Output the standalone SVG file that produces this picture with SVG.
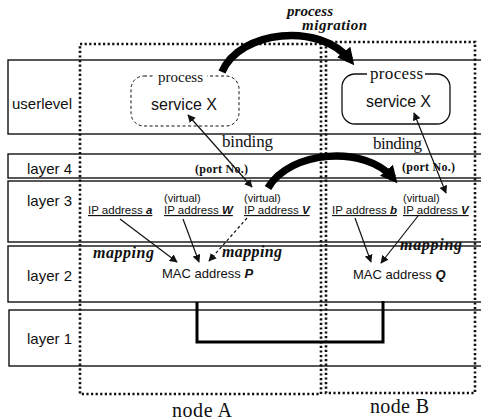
<svg xmlns="http://www.w3.org/2000/svg" width="481" height="420" viewBox="0 0 481 420">
<defs>
<style>
.band{fill:none;stroke:#111;stroke-width:1.4}
.node{fill:none;stroke:#111;stroke-width:2.6;stroke-dasharray:2.2 2.4}
.sans{font-family:"Liberation Sans",Arial,sans-serif;fill:#111}
.serif{font-family:"Liberation Serif","Times New Roman",serif;fill:#111}
.lay{font-size:15px;text-anchor:end}
.ip{font-size:11.5px;text-decoration:underline}
.virt{font-size:11px}
.bi{font-weight:bold;font-style:italic}
.thin{stroke:#111;stroke-width:1.2;fill:none}
.big{stroke:#000;stroke-width:7.5;fill:none}
</style>
<marker id="ah" viewBox="0 0 10 10" refX="9" refY="5" markerWidth="8" markerHeight="8" markerUnits="userSpaceOnUse" orient="auto-start-reverse">
<path d="M0,0 L10,5 L0,10 z" fill="#111"/>
</marker>
<marker id="bh" viewBox="0 0 10 10" refX="6" refY="5" markerWidth="17" markerHeight="17" markerUnits="userSpaceOnUse" orient="auto">
<path d="M0,0 L10,5 L0,10 z" fill="#000"/>
</marker>
</defs>
<rect width="481" height="420" fill="#fff"/>

<g id="layers">
<rect class="band" x="8" y="60" width="480" height="74"/>
<rect class="band" x="8" y="154" width="480" height="24"/>
<rect class="band" x="8" y="181" width="480" height="61"/>
<rect class="band" x="8" y="246" width="480" height="56"/>
<rect class="band" x="9" y="310" width="480" height="56"/>
<text class="sans lay" x="72" y="109">userlevel</text>
<text class="sans lay" x="72" y="174">layer 4</text>
<text class="sans lay" x="72" y="206">layer 3</text>
<text class="sans lay" x="72" y="281">layer 2</text>
<text class="sans lay" x="72" y="344">layer 1</text>
</g>

<g id="nodeA">
<rect class="node" x="80" y="44" width="241" height="350"/>
<text class="serif" x="172" y="417" font-size="20" textLength="60">node A</text>
</g>
<g id="nodeB">
<rect class="node" x="326" y="42" width="149" height="351"/>
<text class="serif" x="370" y="413" font-size="20" textLength="59">node B</text>
</g>

<g id="processA">
<rect x="131" y="76" width="108" height="50" rx="13" fill="none" stroke="#111" stroke-width="1" stroke-dasharray="3 2.5"/>
<rect x="155" y="70" width="52" height="12" fill="#fff"/>
<text class="serif" x="158" y="82" font-size="15" textLength="45">process</text>
<text class="sans" x="151" y="110" font-size="16" textLength="66">service X</text>
</g>
<g id="processB">
<rect x="342" y="74" width="108" height="50" rx="13" fill="none" stroke="#111" stroke-width="1.3"/>
<rect x="367" y="68" width="58" height="12" fill="#fff"/>
<text class="serif" x="370" y="79" font-size="17" textLength="53">process</text>
<text class="sans" x="366" y="107" font-size="16" textLength="65">service X</text>
</g>

<g id="layer4labels">
<text class="serif" x="222" y="147" font-size="17" textLength="51">binding</text>
<text class="serif" x="373" y="149" font-size="17" textLength="49">binding</text>
<text class="serif" x="195" y="173" font-size="12" font-weight="bold" textLength="53">(port No.)</text>
<text class="serif" x="402" y="171" font-size="12" font-weight="bold" textLength="53">(port No.)</text>
</g>

<g id="addrA">
<text class="sans ip" x="88" y="214">IP address <tspan class="bi">a</tspan></text>
<text class="sans virt" x="164" y="202">(virtual)</text>
<text class="sans ip" x="164" y="214">IP address <tspan class="bi">W</tspan></text>
<text class="sans virt" x="244" y="202">(virtual)</text>
<text class="sans ip" x="244" y="214">IP address <tspan class="bi">V</tspan></text>
<text class="sans" x="162" y="278" font-size="13">MAC address <tspan class="bi">P</tspan></text>
</g>
<g id="addrB">
<text class="sans ip" x="332" y="214">IP address <tspan class="bi">b</tspan></text>
<text class="sans virt" x="403" y="202">(virtual)</text>
<text class="sans ip" x="403" y="214">IP address <tspan class="bi">V</tspan></text>
<text class="sans" x="353" y="279" font-size="13">MAC address <tspan class="bi">Q</tspan></text>
</g>

<g id="labels">
<text class="serif bi" x="287" y="16" font-size="15" textLength="46">process</text>
<text class="serif bi" x="302" y="30" font-size="15" textLength="65">migration</text>
<text class="serif bi" x="93" y="258" font-size="16" textLength="61">mapping</text>
<text class="serif bi" x="222" y="257" font-size="16" textLength="60">mapping</text>
<text class="serif bi" x="400" y="250" font-size="16" textLength="62">mapping</text>
</g>

<g id="connectors">
<path class="big" d="M222,72 C240,30 320,22 350,60" marker-end="url(#bh)"/>
<path class="big" d="M268,188 C290,150 365,145 393,178" marker-end="url(#bh)"/>
<line class="thin" x1="188" y1="115" x2="252" y2="187" marker-start="url(#ah)" marker-end="url(#ah)"/>
<line class="thin" x1="414" y1="113" x2="446" y2="193" marker-start="url(#ah)" marker-end="url(#ah)"/>
<line class="thin" x1="120" y1="219" x2="177" y2="262" marker-end="url(#ah)"/>
<line class="thin" x1="183" y1="219" x2="199" y2="262" marker-end="url(#ah)"/>
<line class="thin" x1="247" y1="218" x2="209" y2="261" stroke-dasharray="3 2.5" marker-end="url(#ah)"/>
<line class="thin" x1="355" y1="218" x2="371" y2="262" marker-end="url(#ah)"/>
<line class="thin" x1="418" y1="216" x2="381" y2="263" marker-end="url(#ah)"/>
<polyline points="197,302 197,342 383,342 383,301" fill="none" stroke="#000" stroke-width="3"/>
</g>
</svg>
